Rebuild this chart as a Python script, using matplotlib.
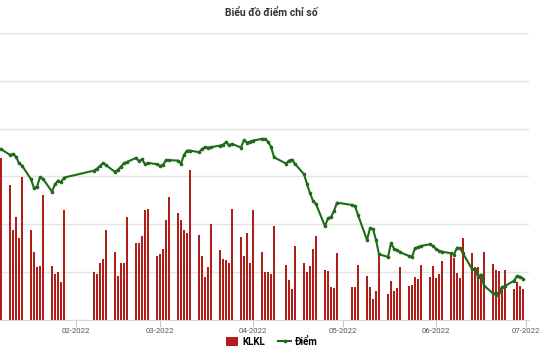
import matplotlib
matplotlib.use("Agg")
import matplotlib.pyplot as plt
from matplotlib.patches import Patch
from matplotlib.lines import Line2D
import pandas as pd
import numpy as np

plt.rcParams['font.family'] = ['Roboto', 'DejaVu Sans']

# Trading days (Vietnam holidays excluded)
holidays = ["2022-01-31", "2022-02-01", "2022-02-02", "2022-02-03", "2022-02-04",
            "2022-04-11", "2022-05-02", "2022-05-03"]
dates = pd.bdate_range("2022-01-07", "2022-06-30", freq="C", holidays=holidays)

# KLKL (matched volume, million shares)
klkl = [3.38, 2.82, 1.89, 2.16, 1.71, 2.99, 1.88, 1.42, 1.10, 1.12, 2.62, 1.12, 0.96, 1.01, 0.79, 2.29,
        1.01, 0.96, 1.20, 1.28, 1.89, 1.42, 0.91, 1.20, 1.19, 2.15, 1.61, 1.61, 1.75, 2.30, 2.32,
        1.34, 1.38, 1.49, 2.09, 2.58, 2.23, 2.10, 1.89, 1.82, 3.13, 1.78, 1.34, 0.90, 1.11, 2.01,
        1.47, 1.28, 1.26, 1.19, 2.33, 1.74, 1.33, 1.81, 1.19, 2.29,
        1.42, 1.00, 1.00, 0.96, 1.96, 1.14, 0.83, 0.64, 1.54, 1.20, 1.00, 1.12, 1.49, 1.75,
        1.04, 1.02, 0.70, 0.66, 1.40,
        0.68, 0.70, 1.15, 0.93, 0.68, 0.44, 0.61, 1.37, 0.54, 0.82, 0.61, 0.66, 1.10,
        0.71, 0.73, 0.90, 0.86, 1.14, 0.90, 1.13, 0.88, 0.97, 1.23,
        1.40, 1.30, 0.98, 0.88, 1.72, 1.41, 1.10, 1.11, 0.96, 1.42, 1.18, 1.05, 1.03, 0.72, 1.05,
        0.65, 0.79, 0.71, 0.64]
klkl = [v * 20 for v in klkl]

# Điểm (index points)
diem = [454.3, 447.1, 448.4, 445.0, 436.7, 433.7, 416.6, 405.3, 407.3, 419.1, 417.0, 401.0, 410.3, 414.9, 412.8, 418.6,
        427.4, 429.9, 433.3, 436.7, 434.2, 425.8, 428.7, 432.4, 436.7, 438.3, 443.3, 439.2, 441.7, 435.4, 437.1,
        435.4, 433.3, 434.6, 440.5, 440.5, 440.0, 436.2, 447.1, 452.5, 452.5, 450.5, 454.3, 456.8, 456.3, 456.8,
        458.8, 460.0, 463.0, 459.3, 460.9, 456.3, 465.6, 462.5, 463.8, 465.1,
        467.2, 467.2, 463.8, 457.5, 444.2, 436.2, 440.0, 441.2, 435.8, 422.9, 410.7, 399.0, 389.7, 385.6,
        357.6, 367.7, 369.3, 376.8, 387.2,
        384.3, 383.1, 371.8, 340.4, 355.1, 354.2, 340.4, 322.5, 319.1, 336.3, 329.5, 327.9, 325.0,
        320.3, 319.1, 330.0, 331.3, 332.9, 335.0, 332.9, 329.1, 327.0, 325.7,
        323.7, 322.0, 330.8, 330.0, 323.7, 304.0, 303.6, 294.4, 296.9, 283.1, 273.5, 271.8, 275.1, 281.0, 282.7,
        289.3, 295.2, 294.4, 291.8]

month_ticks = ["2022-02-01", "2022-03-01", "2022-04-01", "2022-05-01", "2022-06-01", "2022-07-01"]
month_labels = ["02-2022", "03-2022", "04-2022", "05-2022", "06-2022", "07-2022"]

bar_color = "#b01e1a"
line_color = "#1f6b1a"

fig = plt.figure(figsize=(5.4, 3.6), dpi=100)
ax = fig.add_axes([0.0, 40 / 360, 529 / 540, 287 / 360])
ax.bar(dates, klkl, width=0.65, color=bar_color, zorder=2)
ax.set_ylim(0, 120)
ax.set_yticks(np.arange(0, 121, 20))
ax.set_yticklabels([])
ax.tick_params(axis='y', length=0)
ax.grid(axis='y', color='#e3e3e3', linewidth=1, zorder=0)
ax.set_axisbelow(True)
ax.set_xlim(pd.Timestamp("2022-01-06 16:00"), pd.Timestamp("2022-07-02"))
ax.set_xticks(pd.to_datetime(month_ticks))
ax.set_xticklabels(month_labels, fontsize=5.6, color='#555555')
ax.tick_params(axis='x', length=5, color='#c8c8c8', pad=1)
for s in ['top', 'left', 'right']:
    ax.spines[s].set_visible(False)
ax.spines['bottom'].set_color('#d8d8d8')

ax2 = ax.twinx()
ax2.plot(dates, diem, color=line_color, linewidth=1.5, marker='o', markersize=1.6, zorder=3)
ax2.set_ylim(240, 600)
ax2.set_yticks([])
for s in ax2.spines.values():
    s.set_visible(False)

fig.text(0.503, 0.965, "Biểu đồ điểm chỉ số", ha='center', va='center',
         fontsize=7.5, fontweight='bold', color='#333333')

handles = [Patch(facecolor=bar_color, edgecolor='none', label='KLKL'),
           Line2D([0], [0], color=line_color, linewidth=1.5, marker='o', markersize=1.6, label='Điểm')]
fig.legend(handles=handles, loc='center', bbox_to_anchor=(0.503, 0.05), ncol=2, frameon=False,
           prop={'weight': 'bold', 'size': 7}, handlelength=1.3, handleheight=1.0,
           handletextpad=0.4, columnspacing=1.4)

fig.savefig("out.png", dpi=100)
